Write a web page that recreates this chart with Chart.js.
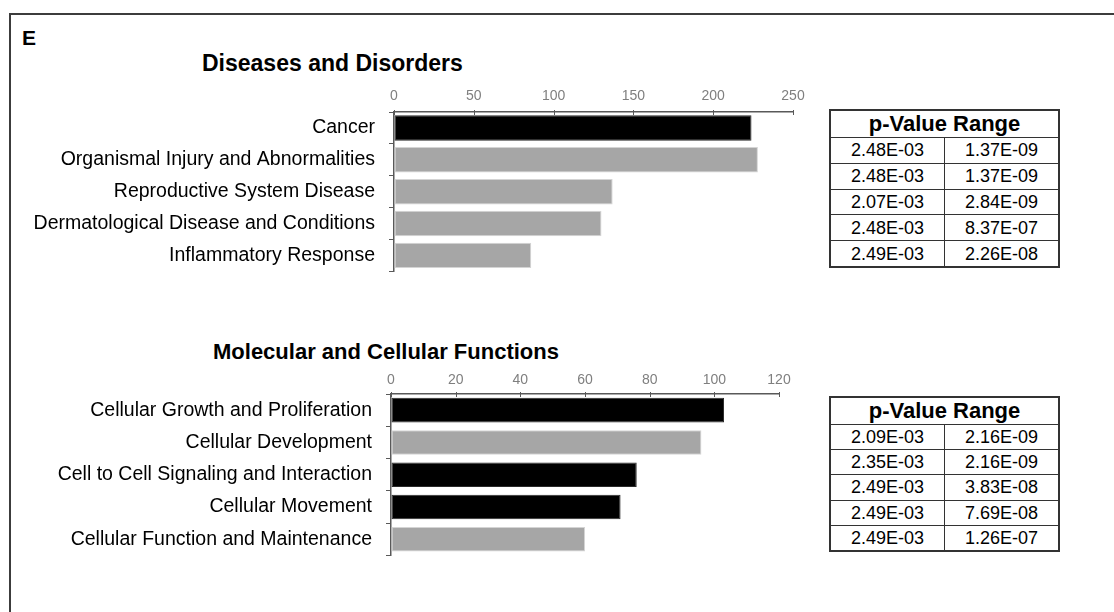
<!DOCTYPE html>
<html>
<head>
<meta charset="utf-8">
<script src="https://cdn.jsdelivr.net/npm/chart.js@4"></script>
<style>
  body { margin: 0; width: 1114px; height: 612px; overflow: hidden; background: #fff; position: relative;
         font-family: 'Liberation Sans', Arial, sans-serif; color: #000; }
  #moldura { position: absolute; left: 9px; top: 13px; width: 1200px; height: 700px; border: 2px solid #3c3c3c; box-sizing: border-box; }
  .letra { position: absolute; left: 22px; top: 27px; font-size: 21px; font-weight: bold; line-height: 21px; }
  .titulo { position: absolute; font-size: 22.5px; font-weight: bold; line-height: 22px; white-space: nowrap; }
  canvas { position: absolute; }
  table.pval { position: absolute; border-collapse: collapse; border: 2px solid #333; font-size: 18px; table-layout: fixed; }
  table.pval th { font-weight: bold; font-size: 22px; height: 26px; padding: 0; border: 1px solid #333; line-height: 24px; }
  table.pval td { width: 113px; height: 24.8px; padding: 0; text-align: center; border: 1px solid #333; line-height: 20px; }
  #tabela2 td { height: 24.2px; }
</style>
</head>
<body>
<div id="moldura"></div>
<div class="letra">E</div>

<div class="titulo" style="left:202px; top:52px; font-size:23px;">Diseases and Disorders</div>
<canvas id="grafico1" width="800" height="217" style="left:20px; top:80px;"></canvas>
<table class="pval" id="tabela1" style="left:829px; top:109px;"></table>

<div class="titulo" style="left:213px; top:341px; font-size:22px;">Molecular and Cellular Functions</div>
<canvas id="grafico2" width="800" height="221" style="left:20px; top:360px;"></canvas>
<table class="pval" id="tabela2" style="left:829px; top:396px;"></table>

<script>
// Diseases and Disorders
const doencasCategorias = ['Cancer', 'Organismal Injury and Abnormalities', 'Reproductive System Disease',
                           'Dermatological Disease and Conditions', 'Inflammatory Response'];
const doencasValores = [224, 228, 137, 130, 86];
const doencasPMax = ['2.48E-03', '2.48E-03', '2.07E-03', '2.48E-03', '2.49E-03'];
const doencasPMin = ['1.37E-09', '1.37E-09', '2.84E-09', '8.37E-07', '2.26E-08'];
const doencasEixo = [0, 50, 100, 150, 200, 250];

// Molecular and Cellular Functions
const funcoesCategorias = ['Cellular Growth and Proliferation', 'Cellular Development',
                           'Cell to Cell Signaling and Interaction', 'Cellular Movement',
                           'Cellular Function and Maintenance'];
const funcoesValores = [103, 96, 76, 71, 60];
const funcoesPMax = ['2.09E-03', '2.35E-03', '2.49E-03', '2.49E-03', '2.49E-03'];
const funcoesPMin = ['2.16E-09', '2.16E-09', '3.83E-08', '7.69E-08', '1.26E-07'];
const funcoesEixo = [0, 20, 40, 60, 80, 100, 120];

// Cores das barras
const PRETO = '#000000';
const CINZA = '#a6a6a6';
const doencasCores = [PRETO, CINZA, CINZA, CINZA, CINZA];
const funcoesCores = [PRETO, CINZA, PRETO, PRETO, CINZA];

const corEixo = '#595959';
const fonte = "'Liberation Sans', Arial, sans-serif";

// Marcas do eixo x voltadas para dentro (abaixo da linha do eixo)
const marcasInternas = {
    id: 'marcasInternas',
    afterDraw(chart) {
        const x = chart.scales.x;
        const ctx = chart.ctx;
        ctx.save();
        ctx.strokeStyle = corEixo;
        ctx.lineWidth = 1;
        x.ticks.forEach(t => {
            const px = Math.round(x.getPixelForValue(t.value)) + 0.5;
            ctx.beginPath();
            ctx.moveTo(px, x.bottom - 2);
            ctx.lineTo(px, x.bottom + 3);
            ctx.stroke();
        });
        ctx.restore();
    }
};

function criarGrafico(id, categorias, valores, cores, eixo, medidas) {
    const ctx = document.getElementById(id).getContext('2d');
    return new Chart(ctx, {
        type: 'bar',
        data: {
            labels: categorias,
            datasets: [{
                data: valores,
                backgroundColor: cores,
                borderColor: cores.map(c => c === PRETO ? '#2a2a2a' : '#d4d4d4'),
                borderWidth: 1,
                borderSkipped: false,
                barPercentage: medidas.barra,
                categoryPercentage: 1
            }]
        },
        options: {
            indexAxis: 'y',
            responsive: false,
            animation: false,
            layout: { padding: { left: 0, top: 0, right: medidas.direita, bottom: 0 } },
            plugins: { legend: { display: false }, tooltip: { enabled: false } },
            scales: {
                x: {
                    position: 'top',
                    min: eixo[0],
                    max: eixo[eixo.length - 1],
                    afterBuildTicks: s => { s.ticks = eixo.map(v => ({ value: v })); },
                    afterFit: s => { s.height = medidas.alturaX; },
                    grid: { display: true, drawOnChartArea: false, drawTicks: false },
                    border: { display: true, color: corEixo, width: 1.5 },
                    ticks: { color: '#7f7f7f', font: { family: fonte, size: 14 }, padding: medidas.padX, maxRotation: 0 }
                },
                y: {
                    afterFit: s => { s.width = medidas.larguraY; },
                    grid: { display: true, drawOnChartArea: false, offset: true, tickLength: 5, color: corEixo, lineWidth: 1 },
                    border: { display: true, color: corEixo, width: 1.5 },
                    ticks: { color: '#000', font: { family: fonte, size: 19.5 }, padding: 14, autoSkip: false }
                }
            }
        },
        plugins: [marcasInternas]
    });
}

function montarTabela(id, pMax, pMin) {
    let html = '<tr><th colspan="2">p-Value Range</th></tr>';
    for (let i = 0; i < pMax.length; i++) {
        html += `<tr><td>${pMax[i]}</td><td>${pMin[i]}</td></tr>`;
    }
    document.getElementById(id).innerHTML = html;
}

criarGrafico('grafico1', doencasCategorias, doencasValores, doencasCores, doencasEixo,
    { larguraY: 374, alturaX: 32, direita: 27, padX: 7, barra: 0.8 });
criarGrafico('grafico2', funcoesCategorias, funcoesValores, funcoesCores, funcoesEixo,
    { larguraY: 371, alturaX: 34, direita: 41, padX: 5, barra: 0.76 });

montarTabela('tabela1', doencasPMax, doencasPMin);
montarTabela('tabela2', funcoesPMax, funcoesPMin);
</script>
</body>
</html>
